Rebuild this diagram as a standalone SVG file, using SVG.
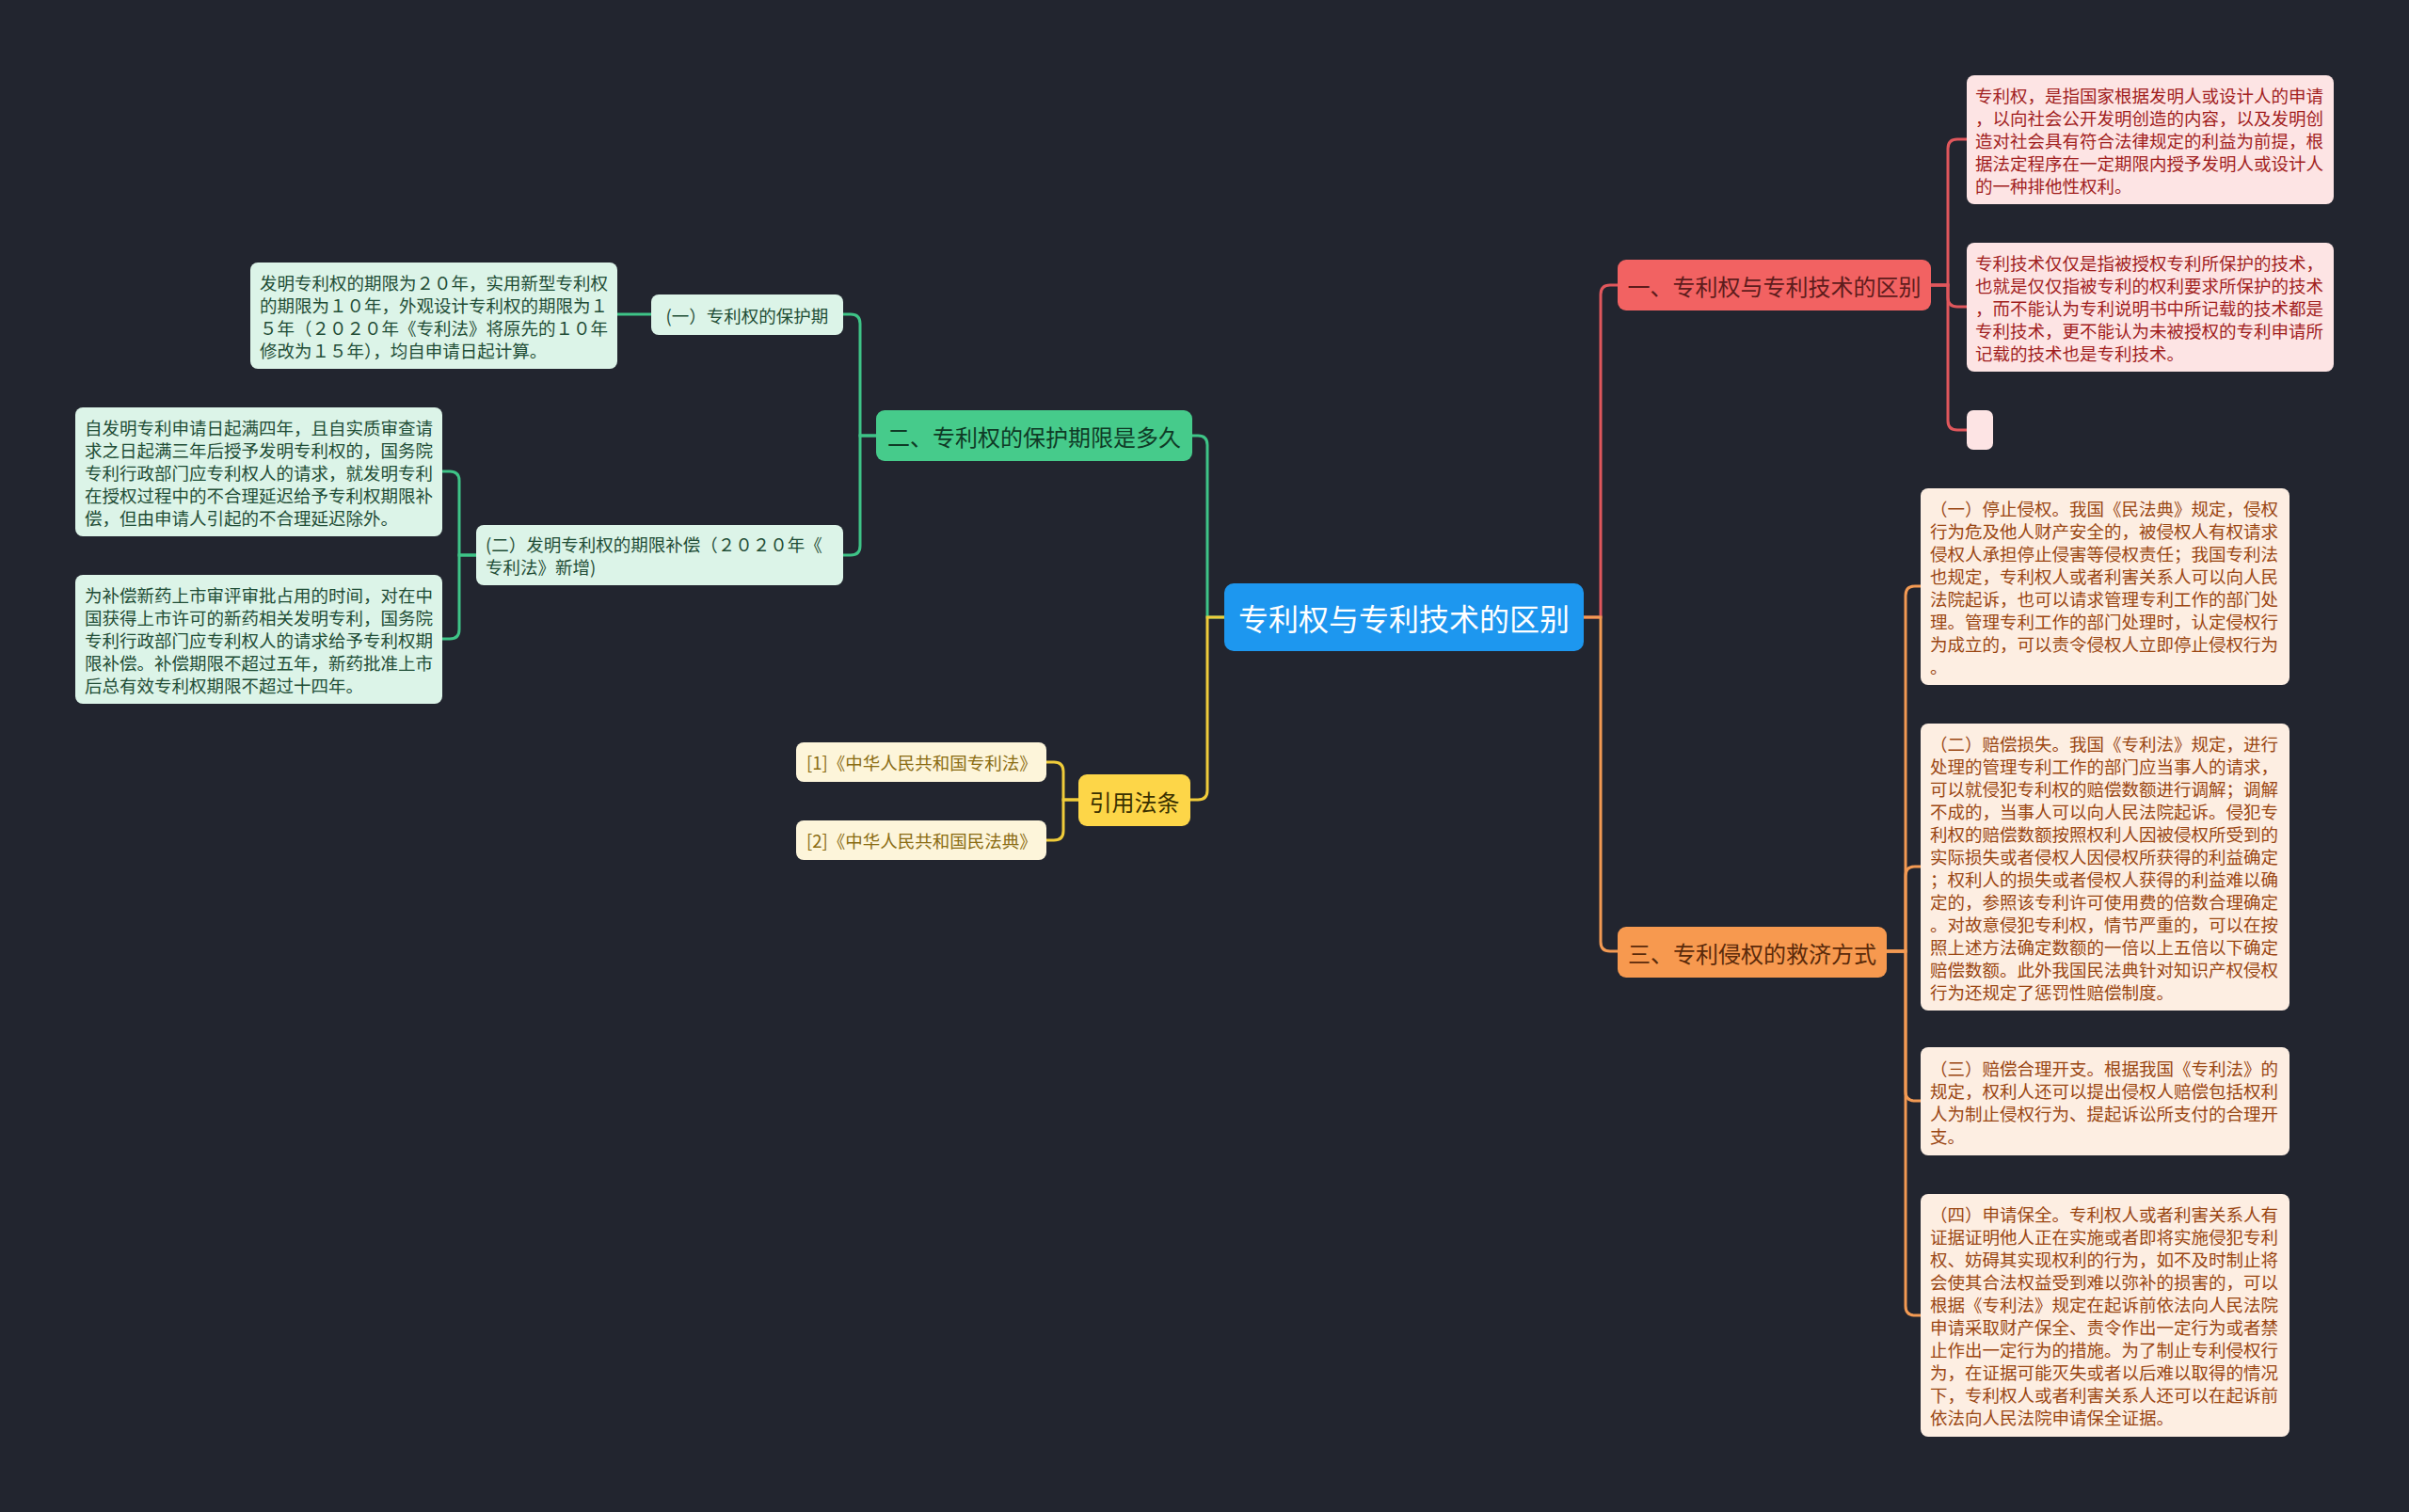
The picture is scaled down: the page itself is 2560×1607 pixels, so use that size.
<svg xmlns="http://www.w3.org/2000/svg" width="2560" height="1607" viewBox="0 0 2560 1607">
<style>
text{font-family:"Noto Sans CJK SC","Noto Sans",sans-serif;dominant-baseline:central}
.lf{font-size:18.5px}
.br{font-size:24px;text-anchor:middle}
.red{fill:#fde4e4}.redt{fill:#a11e1e}
.org{fill:#fdeee2}.orgt{fill:#9a4612}
.grn{fill:#dcf4e8}.grnt{fill:#1f4d36}
.yel{fill:#fdf5da}.yelt{fill:#8a6c12}
.c{fill:none;stroke-width:3;stroke-linecap:round}
</style>
<rect x="0" y="0" width="2560" height="1607" fill="#22252f"/>
<g id="connectors">
<path class="c" stroke="#e0575c" d="M1683 656 H1701 V313 Q1701 303 1711 303 H1719"/>
<path class="c" stroke="#f39a53" d="M1683 656 H1701 V1001 Q1701 1011 1711 1011 H1719"/>
<path class="c" stroke="#3ec487" d="M1301 656 H1283 V473 Q1283 463 1273 463 H1267"/>
<path class="c" stroke="#f0cc3a" d="M1301 656 H1283 V840 Q1283 850 1273 850 H1265"/>
<path class="c" stroke="#e0575c" d="M2052 303 H2070 V158 Q2070 148 2080 148 H2090"/>
<path class="c" stroke="#e0575c" d="M2052 303 H2070 V316 Q2070 326 2080 326 H2090"/>
<path class="c" stroke="#e0575c" d="M2052 303 H2070 V447 Q2070 457 2080 457 H2090"/>
<path class="c" stroke="#f39a53" d="M2005 1011 H2025 V633 Q2025 623 2035 623 H2041"/>
<path class="c" stroke="#f39a53" d="M2005 1011 H2025 V931 Q2025 921 2035 921 H2041"/>
<path class="c" stroke="#f39a53" d="M2005 1011 H2025 V1160 Q2025 1170 2035 1170 H2041"/>
<path class="c" stroke="#f39a53" d="M2005 1011 H2025 V1388 Q2025 1398 2035 1398 H2041"/>
<path class="c" stroke="#3ec487" d="M931 463 H914 V344 Q914 334 904 334 H896"/>
<path class="c" stroke="#3ec487" d="M931 463 H914 V580 Q914 590 904 590 H896"/>
<path class="c" stroke="#3ec487" d="M692 334 H656"/>
<path class="c" stroke="#3ec487" d="M506 590 H488 V511 Q488 501 478 501 H470"/>
<path class="c" stroke="#3ec487" d="M506 590 H488 V669 Q488 679 478 679 H470"/>
<path class="c" stroke="#f0cc3a" d="M1146 850 H1130 V820 Q1130 810 1120 810 H1112"/>
<path class="c" stroke="#f0cc3a" d="M1146 850 H1130 V883 Q1130 893 1120 893 H1112"/>
</g>
<g id="center">
<rect x="1301" y="620" width="382" height="72" rx="10" fill="#1d97ef"/>
<text x="1492" y="656" font-size="32" fill="#ffffff" text-anchor="middle">专利权与专利技术的区别</text>
</g>
<g id="branch1">
<rect x="1719" y="276" width="333" height="54" rx="9" fill="#f26262"/>
<text class="br" x="1885.5" y="303" fill="#5e1c1c">一、专利权与专利技术的区别</text>
</g>
<g id="red-leaf1">
<rect class="red" x="2090" y="80" width="390" height="137" rx="8"/>
<text class="lf redt" x="2099" y="100.5"><tspan x="2099">专利权，是指国家根据发明人或设计人的申请</tspan><tspan x="2099" dy="24">，以向社会公开发明创造的内容，以及发明创</tspan><tspan x="2099" dy="24">造对社会具有符合法律规定的利益为前提，根</tspan><tspan x="2099" dy="24">据法定程序在一定期限内授予发明人或设计人</tspan><tspan x="2099" dy="24">的一种排他性权利。</tspan></text>
</g>
<g id="red-leaf2">
<rect class="red" x="2090" y="258" width="390" height="137" rx="8"/>
<text class="lf redt" x="2099" y="278.5"><tspan x="2099">专利技术仅仅是指被授权专利所保护的技术，</tspan><tspan x="2099" dy="24">也就是仅仅指被专利的权利要求所保护的技术</tspan><tspan x="2099" dy="24">，而不能认为专利说明书中所记载的技术都是</tspan><tspan x="2099" dy="24">专利技术，更不能认为未被授权的专利申请所</tspan><tspan x="2099" dy="24">记载的技术也是专利技术。</tspan></text>
</g>
<g id="red-leaf3">
<rect class="red" x="2090" y="436" width="28" height="42" rx="7"/>
</g>
<g id="branch3">
<rect x="1719" y="985" width="286" height="54" rx="9" fill="#f7994f"/>
<text class="br" x="1862" y="1012" fill="#5a2a0a">三、专利侵权的救济方式</text>
</g>
<g id="org-leaf1">
<rect class="org" x="2041" y="519" width="392" height="209" rx="8"/>
<text class="lf orgt" x="2051" y="539.5"><tspan x="2051">（一）停止侵权。我国《民法典》规定，侵权</tspan><tspan x="2051" dy="24">行为危及他人财产安全的，被侵权人有权请求</tspan><tspan x="2051" dy="24">侵权人承担停止侵害等侵权责任；我国专利法</tspan><tspan x="2051" dy="24">也规定，专利权人或者利害关系人可以向人民</tspan><tspan x="2051" dy="24">法院起诉，也可以请求管理专利工作的部门处</tspan><tspan x="2051" dy="24">理。管理专利工作的部门处理时，认定侵权行</tspan><tspan x="2051" dy="24">为成立的，可以责令侵权人立即停止侵权行为</tspan><tspan x="2051" dy="24">。</tspan></text>
</g>
<g id="org-leaf2">
<rect class="org" x="2041" y="769" width="392" height="305" rx="8"/>
<text class="lf orgt" x="2051" y="789.5"><tspan x="2051">（二）赔偿损失。我国《专利法》规定，进行</tspan><tspan x="2051" dy="24">处理的管理专利工作的部门应当事人的请求，</tspan><tspan x="2051" dy="24">可以就侵犯专利权的赔偿数额进行调解；调解</tspan><tspan x="2051" dy="24">不成的，当事人可以向人民法院起诉。侵犯专</tspan><tspan x="2051" dy="24">利权的赔偿数额按照权利人因被侵权所受到的</tspan><tspan x="2051" dy="24">实际损失或者侵权人因侵权所获得的利益确定</tspan><tspan x="2051" dy="24">；权利人的损失或者侵权人获得的利益难以确</tspan><tspan x="2051" dy="24">定的，参照该专利许可使用费的倍数合理确定</tspan><tspan x="2051" dy="24">。对故意侵犯专利权，情节严重的，可以在按</tspan><tspan x="2051" dy="24">照上述方法确定数额的一倍以上五倍以下确定</tspan><tspan x="2051" dy="24">赔偿数额。此外我国民法典针对知识产权侵权</tspan><tspan x="2051" dy="24">行为还规定了惩罚性赔偿制度。</tspan></text>
</g>
<g id="org-leaf3">
<rect class="org" x="2041" y="1113" width="392" height="115" rx="8"/>
<text class="lf orgt" x="2051" y="1134.5"><tspan x="2051">（三）赔偿合理开支。根据我国《专利法》的</tspan><tspan x="2051" dy="24">规定，权利人还可以提出侵权人赔偿包括权利</tspan><tspan x="2051" dy="24">人为制止侵权行为、提起诉讼所支付的合理开</tspan><tspan x="2051" dy="24">支。</tspan></text>
</g>
<g id="org-leaf4">
<rect class="org" x="2041" y="1269" width="392" height="258" rx="8"/>
<text class="lf orgt" x="2051" y="1290"><tspan x="2051">（四）申请保全。专利权人或者利害关系人有</tspan><tspan x="2051" dy="24">证据证明他人正在实施或者即将实施侵犯专利</tspan><tspan x="2051" dy="24">权、妨碍其实现权利的行为，如不及时制止将</tspan><tspan x="2051" dy="24">会使其合法权益受到难以弥补的损害的，可以</tspan><tspan x="2051" dy="24">根据《专利法》规定在起诉前依法向人民法院</tspan><tspan x="2051" dy="24">申请采取财产保全、责令作出一定行为或者禁</tspan><tspan x="2051" dy="24">止作出一定行为的措施。为了制止专利侵权行</tspan><tspan x="2051" dy="24">为，在证据可能灭失或者以后难以取得的情况</tspan><tspan x="2051" dy="24">下，专利权人或者利害关系人还可以在起诉前</tspan><tspan x="2051" dy="24">依法向人民法院申请保全证据。</tspan></text>
</g>
<g id="branch2">
<rect x="931" y="436" width="336" height="54" rx="9" fill="#46cb8b"/>
<text class="br" x="1099" y="463" fill="#0f3a26">二、专利权的保护期限是多久</text>
</g>
<g id="grn-sub1">
<rect class="grn" x="692" y="313" width="204" height="43" rx="8"/>
<text class="lf grnt" x="794" y="334.5" text-anchor="middle">(一）专利权的保护期</text>
</g>
<g id="grn-sub1-leaf">
<rect class="grn" x="266" y="279" width="390" height="113" rx="8"/>
<text class="lf grnt" x="276" y="299.5"><tspan x="276">发明专利权的期限为２０年，实用新型专利权</tspan><tspan x="276" dy="24">的期限为１０年，外观设计专利权的期限为１</tspan><tspan x="276" dy="24">５年（２０２０年《专利法》将原先的１０年</tspan><tspan x="276" dy="24">修改为１５年），均自申请日起计算。</tspan></text>
</g>
<g id="grn-sub2">
<rect class="grn" x="506" y="558" width="390" height="64" rx="8"/>
<text class="lf grnt" x="516" y="578"><tspan x="516">(二）发明专利权的期限补偿（２０２０年《</tspan><tspan x="516" dy="24">专利法》新增)</tspan></text>
</g>
<g id="grn-sub2-leaf1">
<rect class="grn" x="80" y="433" width="390" height="137" rx="8"/>
<text class="lf grnt" x="90" y="453.5"><tspan x="90">自发明专利申请日起满四年，且自实质审查请</tspan><tspan x="90" dy="24">求之日起满三年后授予发明专利权的，国务院</tspan><tspan x="90" dy="24">专利行政部门应专利权人的请求，就发明专利</tspan><tspan x="90" dy="24">在授权过程中的不合理延迟给予专利权期限补</tspan><tspan x="90" dy="24">偿，但由申请人引起的不合理延迟除外。</tspan></text>
</g>
<g id="grn-sub2-leaf2">
<rect class="grn" x="80" y="611" width="390" height="137" rx="8"/>
<text class="lf grnt" x="90" y="631.5"><tspan x="90">为补偿新药上市审评审批占用的时间，对在中</tspan><tspan x="90" dy="24">国获得上市许可的新药相关发明专利，国务院</tspan><tspan x="90" dy="24">专利行政部门应专利权人的请求给予专利权期</tspan><tspan x="90" dy="24">限补偿。补偿期限不超过五年，新药批准上市</tspan><tspan x="90" dy="24">后总有效专利权期限不超过十四年。</tspan></text>
</g>
<g id="yellow">
<rect x="1146" y="823" width="119" height="55" rx="9" fill="#fdd648"/>
<text class="br" x="1205.5" y="851" fill="#3a3000">引用法条</text>
</g>
<g id="yel-leaf1">
<rect class="yel" x="846" y="789" width="266" height="42" rx="8"/>
<text class="lf yelt" x="857" y="810">[1]《中华人民共和国专利法》</text>
</g>
<g id="yel-leaf2">
<rect class="yel" x="846" y="872" width="266" height="42" rx="8"/>
<text class="lf yelt" x="857" y="893">[2]《中华人民共和国民法典》</text>
</g>
</svg>
